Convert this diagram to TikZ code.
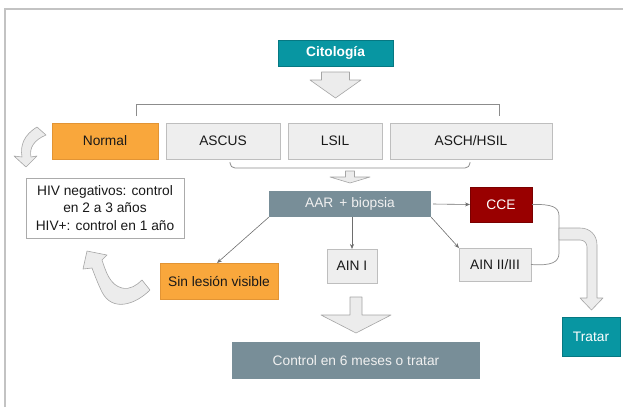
\documentclass[tikz,border=0pt]{standalone}
\usepackage{fontspec}
\setmainfont{Liberation Sans}
\usetikzlibrary{arrows.meta,calc}

\definecolor{cteal}{RGB}{8,150,162}
\definecolor{corange}{RGB}{249,167,60}
\definecolor{corangeline}{RGB}{226,148,52}
\definecolor{cslate}{RGB}{120,142,152}
\definecolor{cred}{RGB}{153,0,0}
\definecolor{cboxfill}{RGB}{238,238,238}
\definecolor{cboxline}{RGB}{190,190,190}
\definecolor{carrowfill}{RGB}{236,236,236}
\definecolor{carrowline}{RGB}{165,165,165}
\definecolor{cthin}{RGB}{110,110,110}
\definecolor{cframe}{RGB}{195,195,195}

\begin{document}
\begin{tikzpicture}[x=1bp, y=-1bp,
  font=\fontsize{13.8}{17.5}\selectfont,
  wh/.style 2 args={minimum width=#1bp, minimum height=#2bp},
  base/.style={inner sep=0pt, outer sep=0pt, line width=0.8bp, align=center},
  greybox/.style={base, draw=cboxline, fill=cboxfill, text=black!90},
  orangebox/.style={base, draw=corangeline, fill=corange, text=black!90},
  tealbox/.style={base, draw=cteal!80!black, fill=cteal, text=white},
  slatebox/.style={base, fill=cslate, text=white!94!black},
  redbox/.style={base, draw=cred!80!black, fill=cred, text=white},
  notebox/.style={base, draw=cboxline!90!black, fill=white, text=black!90},
  thin/.style={draw=cthin, line width=0.6bp, -{Stealth[length=5bp, width=4bp]}},
  bracket/.style={draw=black!45, line width=0.8bp},
  blockarrow/.style={fill=carrowfill, draw=carrowline, line width=0.6bp, line join=round}
]
\useasboundingbox (0,0) rectangle (623,407);

% page frame
\draw[cframe, line width=1.2bp] (5,407) -- (5,9) -- (623,9);

% boxes
\node[tealbox, wh={115}{26}, font=\fontsize{13.8}{17.5}\selectfont\bfseries] (cito) at (335.5,53) {Citología};
\node[orangebox, wh={106}{36}] (normal) at (105,141) {Normal};
\node[greybox, wh={114}{36}] (ascus) at (223,141) {ASCUS};
\node[greybox, wh={94}{36}] (lsil) at (335,141) {LSIL};
\node[greybox, wh={162}{36}] (hsil) at (471,141) {ASCH/HSIL};
\node[notebox, wh={158}{60}] (hiv) at (105,208) {HIV negativos: control\\en 2 a 3 años\\HIV+: control en 1 año};
\node[slatebox, wh={162}{26}] (aar) at (350,204) {AAR \,+ biopsia};
\node[redbox, wh={62}{35}] (cce) at (501,204.5) {CCE};
\node[greybox, wh={50}{34}] (ain1) at (352,266) {AIN I};
\node[greybox, wh={72}{33}] (ain2) at (495,264.5) {AIN II/III};
\node[orangebox, wh={118}{36}] (sin) at (219,281) {Sin lesión visible};
\node[slatebox, wh={248}{37}] (ctrl) at (356,360.5) {Control en 6 meses o tratar};
\node[tealbox, wh={58}{39}] (tratar) at (591,336.5) {Tratar};

% brackets grouping the cytology results
\draw[bracket] (136,116) -- (136,104) -- (499,104) -- (499,116);
\draw[bracket, rounded corners=5bp] (230,162) -- (230,168) -- (470,168) -- (470,162);

% block arrows
\draw[blockarrow] (321.5,72) -- (349.5,72) -- (349.5,80) -- (361,80) -- (335.5,98) -- (310,80) -- (321.5,80) -- cycle;
\draw[blockarrow] (345.5,171) -- (354.5,171) -- (354.5,177) -- (370,177) -- (350,183) -- (330,177) -- (345.5,177) -- cycle;
\draw[blockarrow] (350,297) -- (362,297) -- (362,315) -- (391,315) -- (356,333) -- (321,315) -- (350,315) -- cycle;

% thin connectors from the anoscopy box
\draw[thin] ($(aar.east)+(2,0)$) -- (cce.west);
\draw[thin] (aar.south -| ain1.north) -- (ain1.north);
\draw[thin] (aar.south east) -- (ain2.north west);
\draw[thin] (aar.south west) -- ($(sin.north)+(-2,0)$);

% bracket joining CCE and AIN II/III
\draw[bracket, line width=0.7bp] (cce.east) .. controls (552,204) and (559,207) .. (559,216)
  -- (559,253) .. controls (559,262) and (552,266) .. (ain2.east);

% bent block arrow towards "Tratar"
\draw[blockarrow] (559,228) -- (580,228) .. controls (590,228) and (597,235) .. (597,245)
  -- (597,298) -- (603,298) -- (591.5,310) -- (580,298) -- (587,298) -- (587,247)
  .. controls (587,243) and (584,240) .. (580,240) -- (559,240) -- cycle;

% curved arrow from "Normal" down to the note
\draw[blockarrow] (37,127) .. controls (24,135) and (20,145) .. (22,157)
  -- (14,156) -- (26,167) -- (37,156) -- (31,157)
  .. controls (29,148) and (34,140) .. (46,135) -- cycle;

% curved arrow from "Sin lesión visible" up to the note
\draw[blockarrow] (150,290) .. controls (135,305) and (112,312) .. (102,292)
  .. controls (98,284) and (95,276) .. (92,268)
  -- (83,269) -- (87,251) -- (107,255) -- (102,260)
  .. controls (106,272) and (110,285) .. (122,288)
  .. controls (130,290) and (137,285) .. (142,280) -- cycle;
\end{tikzpicture}
\end{document}
